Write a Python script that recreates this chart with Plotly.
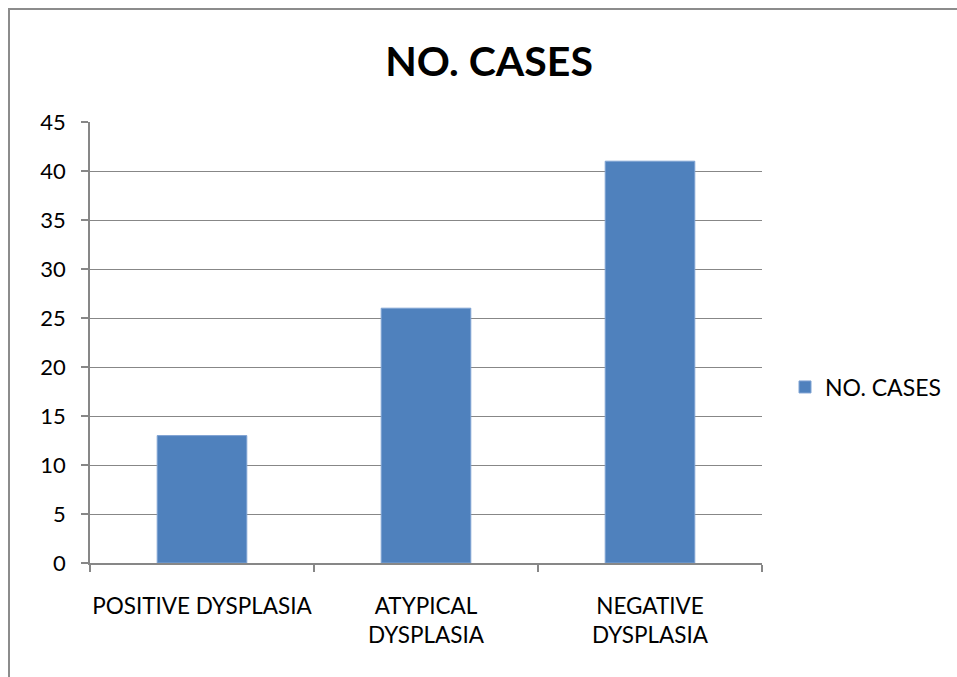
import plotly.graph_objects as go

categories = ["POSITIVE DYSPLASIA", "ATYPICAL<br>DYSPLASIA", "NEGATIVE<br>DYSPLASIA"]
cases = [13, 26, 41]
series_name = "NO. CASES"

W, H = 957, 677
L, R, T, B = 90, 195, 122, 114
pw, ph = W - L - R, H - T - B

def px_x(x):
    return (x - L) / pw

def px_y(y):
    return (H - B - y) / ph

fig = go.Figure()
fig.add_trace(go.Bar(
    x=categories, y=cases, name=series_name, width=0.4,
    marker=dict(color="#4F81BD", line=dict(color="#7FA3D3", width=1)),
    showlegend=True,
))

font = "Lato, Carlito, Calibri, sans-serif"
grid = "#878787"

fig.update_layout(
    width=W, height=H,
    margin=dict(l=L, r=R, t=T, b=B, autoexpand=False),
    paper_bgcolor="white", plot_bgcolor="white",
    font=dict(family=font, size=21, color="black"),
    title=dict(text="<b>NO. CASES</b>", font=dict(size=41, family=font, color="black"),
               xref="container", x=489 / W, xanchor="center",
               yref="container", y=1 - 62 / H, yanchor="middle"),
    showlegend=True,
    legend=dict(x=px_x(785), y=px_y(387), xanchor="left", yanchor="middle",
                font=dict(size=23), bgcolor="rgba(0,0,0,0)"),
    bargap=0.6,
    xaxis=dict(showline=True, linecolor=grid, linewidth=1.5, automargin=False,
               ticks="outside", tickson="boundaries", ticklen=7, tickcolor=grid, tickwidth=1.5,
               ticklabelstandoff=22, showgrid=False, tickangle=0,
               tickfont=dict(size=22.5)),
    yaxis=dict(range=[0, 45], dtick=5, showline=True, linecolor=grid, linewidth=1.5,
               automargin=False,
               ticks="outside", ticklen=7, tickcolor=grid, tickwidth=1.5,
               showgrid=True, gridcolor=grid, gridwidth=1.3, zeroline=False,
               ticklabelstandoff=11, tickfont=dict(size=22)),
    shapes=[dict(type="rect", xref="paper", yref="paper",
                 x0=px_x(9), x1=px_x(970), y0=px_y(690), y1=px_y(9),
                 line=dict(color="#8c8c8c", width=2), layer="below")],
)

fig.write_html("out.html")
